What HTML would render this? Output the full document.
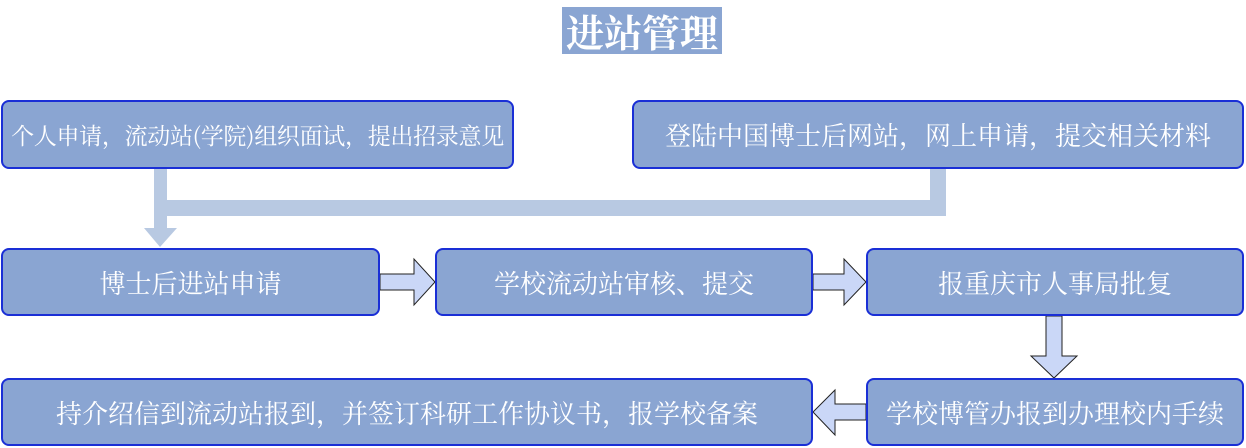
<!DOCTYPE html>
<html><head><meta charset="utf-8"><style>
body{margin:0;width:1246px;height:448px;background:#fff;position:relative;overflow:hidden;font-family:"Noto Serif CJK SC","Liberation Serif",serif;}
.b{position:absolute;box-sizing:border-box;background:#8aa5d2;border:2px solid #1a2fd6;border-radius:8px;color:#fff;font-size:26px;display:flex;align-items:center;justify-content:center;white-space:nowrap;}
.t{position:absolute;left:562px;top:7px;width:160px;height:47px;background:#8aa5d2;color:#fff;font-size:38px;font-weight:bold;display:flex;align-items:center;justify-content:center;}
svg{position:absolute;left:0;top:0}
</style></head><body>
<div class="t">进站管理</div>
<svg width="1246" height="448">
<g fill="#b8c9e2">
<rect x="154" y="168" width="13" height="62"/>
<rect x="154" y="200" width="792" height="16"/>
<rect x="930" y="168" width="16" height="48"/>
<polygon points="144,228 177,228 160,247"/>
</g>
<g fill="#cad7f7" stroke="#222" stroke-width="1">
<polygon points="380,274 414,274 414,259 435,282 414,305 414,290 380,290"/>
<polygon points="813,274 844,274 844,259 866,282 844,305 844,290 813,290"/>
<polygon points="1046,316 1062,316 1062,356 1077,356 1054,378 1031,356 1046,356"/>
<polygon points="866,404 835,404 835,390 813,412 835,435 835,420 866,420"/>
</g>
</svg>
<div class="b" style="left:1px;top:100px;width:513px;height:69px;font-size:23px;letter-spacing:-0.3px">个人申请，流动站(学院)组织面试，提出招录意见</div>
<div class="b" style="left:632px;top:100px;width:612px;height:69px">登陆中国博士后网站，网上申请，提交相关材料</div>
<div class="b" style="left:1px;top:248px;width:379px;height:68px">博士后进站申请</div>
<div class="b" style="left:435px;top:248px;width:378px;height:68px">学校流动站审核、提交</div>
<div class="b" style="left:866px;top:248px;width:378px;height:68px">报重庆市人事局批复</div>
<div class="b" style="left:1px;top:378px;width:812px;height:68px">持介绍信到流动站报到，并签订科研工作协议书，报学校备案</div>
<div class="b" style="left:866px;top:378px;width:378px;height:68px">学校博管办报到办理校内手续</div>
</body></html>
